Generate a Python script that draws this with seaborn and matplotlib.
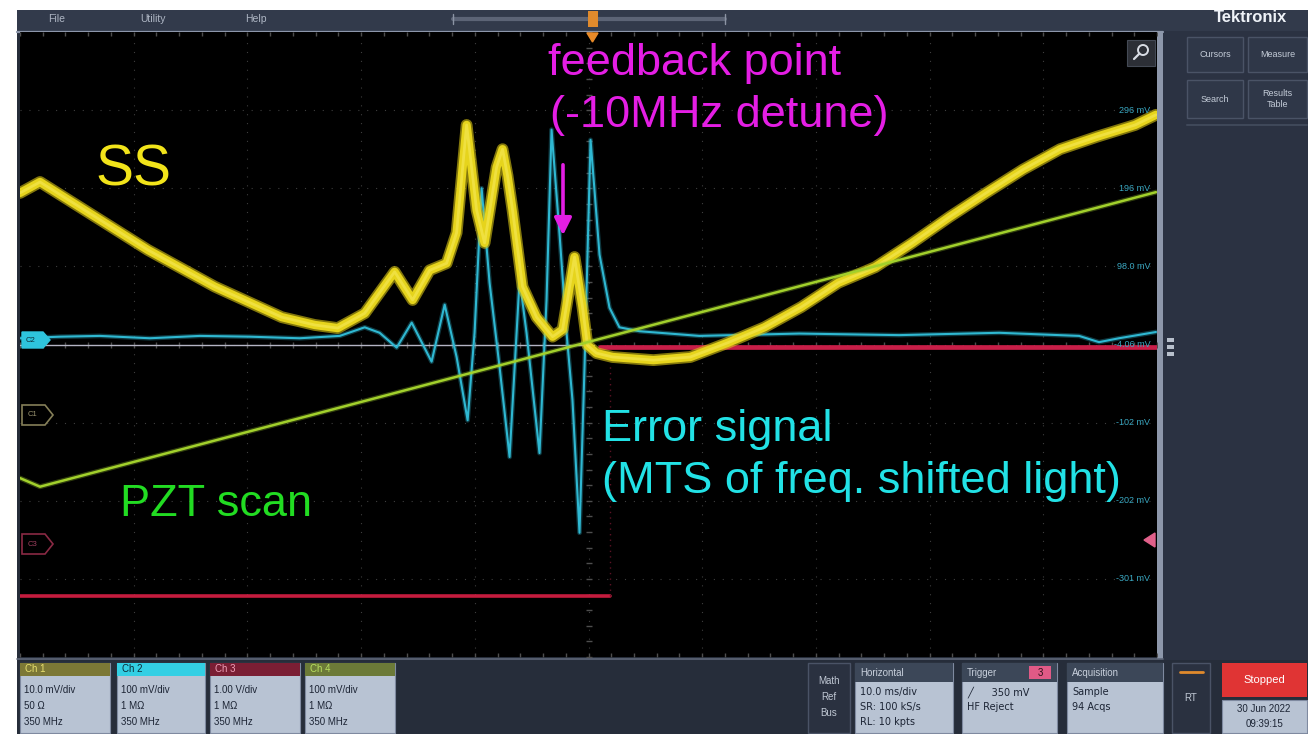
import matplotlib
matplotlib.use("Agg")
import matplotlib.pyplot as plt
import matplotlib.transforms as mtransforms
from matplotlib.patches import Rectangle, Polygon, Circle
import seaborn as sns

sns.set_theme(style="dark")
plt.rcParams['font.family'] = ['Liberation Sans', 'DejaVu Sans']

# ---- acquisition record: time in ms (10 ms/div), amplitude in screen divisions ----
ss_t = [-50.0, -48.24, -38.75, -32.86, -26.98, -24.08, -22.06, -19.68, -17.05, -15.47,
        -13.97, -12.48, -11.60, -10.72, -9.84, -9.14, -8.08, -7.56, -7.12, -6.68,
        -5.80, -4.57, -3.16, -2.28, -1.23, -0.53, -0.09, 0.70, 2.11, 5.71,
        8.96, 12.21, 15.47, 18.72, 21.97, 25.22, 28.47, 31.72, 34.97, 38.22,
        41.48, 44.73, 48.07, 49.91]
ss_div = [1.94, 2.08, 1.21, 0.74, 0.35, 0.25, 0.21, 0.40, 0.93, 0.57,
          0.95, 1.04, 1.43, 2.81, 1.72, 1.30, 2.27, 2.50, 2.16, 1.72,
          0.74, 0.35, 0.10, 0.19, 1.12, 0.48, -0.01, -0.11, -0.16, -0.20,
          -0.16, 0.02, 0.22, 0.48, 0.79, 0.99, 1.30, 1.63, 1.94, 2.24,
          2.50, 2.66, 2.81, 2.94]

err_t = [-50.0, -46.49, -42.97, -38.58, -34.18, -29.79, -25.40, -21.88, -19.68, -18.37,
         -16.87, -15.55, -13.80, -12.65, -11.60, -10.63, -10.02, -9.40, -8.70, -7.82,
         -6.94, -6.06, -5.45, -4.31, -3.69, -3.25, -2.55, -1.93, -1.41, -0.79,
         -0.35, 0.18, 0.97, 1.85, 2.72, 4.48, 9.75, 18.54, 27.33, 36.12,
         43.15, 44.90, 46.66, 49.91]
err_div = [0.08, 0.10, 0.11, 0.08, 0.11, 0.10, 0.08, 0.11, 0.22, 0.15,
           -0.04, 0.28, -0.22, 0.51, -0.16, -0.97, 0.15, 2.00, 0.79, -0.29,
           -1.44, 0.83, 0.15, -1.39, 0.57, 2.75, 1.42, 0.15, -0.71, -2.41,
           -0.29, 2.62, 1.15, 0.47, 0.22, 0.17, 0.11, 0.14, 0.12, 0.15,
           0.11, 0.03, 0.08, 0.16]

pzt_t = [-50.0, -48.24, 49.91]
pzt_div = [-1.71, -1.82, 1.95]

ch3_low_t = [-50.0, 1.85]
ch3_low = [-3.22, -3.22]
ch3_high_t = [1.0, 49.91]
ch3_high = [-0.03, -0.03]

ref_t = [-50.0, 0.5]
ref_div = [0.0, 0.0]

scale_labels = ["296 mV", "196 mV", "98.0 mV", "-4.06 mV", "-102 mV", "-202 mV", "-301 mV"]
scale_divs = [3, 2, 1, 0, -1, -2, -3]

channel_boxes = [
    ("Ch 1", ["10.0 mV/div", "50 Ω", "350 MHz"], "#7c7836", "#e8e070"),
    ("Ch 2", ["100 mV/div", "1 MΩ", "350 MHz"], "#33cfe4", "#0d2a36"),
    ("Ch 3", ["1.00 V/div", "1 MΩ", "350 MHz"], "#7a1e34", "#f0a0b8"),
    ("Ch 4", ["100 mV/div", "1 MΩ", "350 MHz"], "#6c7a38", "#b8e060"),
]

W, H = 1308, 734
fig = plt.figure(figsize=(W / 100, H / 100), dpi=100)
fig.patch.set_facecolor("white")

# chrome layer in pixel units
bg = fig.add_axes([0, 0, 1, 1], zorder=0)
bg.set_xlim(0, W)
bg.set_ylim(H, 0)
bg.axis("off")


def rect(ax, x0, y0, x1, y1, fc, ec=None, lw=0.0, z=1):
    ax.add_patch(Rectangle((x0, y0), x1 - x0, y1 - y0, facecolor=fc,
                           edgecolor=ec if ec else fc, linewidth=lw, zorder=z))


# frame of the instrument screen
rect(bg, 17, 10, W, H, "#262d3a")
rect(bg, 17, 10, W, 31, "#323a4b")
bg.plot([17, 1163], [31.5, 31.5], color="#8c96aa", lw=1.6, zorder=2)
rect(bg, 1157, 31, 1163, 659, "#8d97aa", z=2)
rect(bg, 1163, 31, W, 660, "#2b3242")
bg.plot([17, 1163], [658.5, 658.5], color="#5e6678", lw=1.2, zorder=2)

# top menu
for label, x in [("File", 48), ("Utility", 140), ("Help", 245)]:
    bg.text(x, 19, label, color="#aeb6c4", fontsize=7.5, va="center", ha="left", zorder=3)
bg.plot([453, 725], [19, 19], color="#5c6476", lw=3, zorder=3, solid_capstyle="round")
bg.plot([453, 453], [14, 24], color="#8c94a4", lw=1, zorder=3)
bg.plot([725, 725], [14, 24], color="#8c94a4", lw=1, zorder=3)
rect(bg, 588, 11, 598, 27, "#e08a2c", z=4)
bg.text(1250, 17, "Tektronix", color="#eef2f8", fontsize=12, fontweight="bold",
        ha="center", va="center", zorder=3)

# side panel buttons
for (x0, y0, x1, y1, txt) in [(1187, 37, 1243, 72, "Cursors"), (1248, 37, 1307, 72, "Measure"),
                              (1187, 80, 1243, 118, "Search"), (1248, 80, 1307, 118, "Results\nTable")]:
    rect(bg, x0, y0, x1, y1, "#2f3748", ec="#4a5366", lw=1.0, z=3)
    bg.text((x0 + x1) / 2, (y0 + y1) / 2, txt, color="#c4ccd8", fontsize=6.5,
            ha="center", va="center", zorder=4, linespacing=1.2)
bg.plot([1187, 1307], [125, 125], color="#3f4859", lw=1.5, zorder=3)
for yy in [340, 347, 354]:
    rect(bg, 1167, yy - 2, 1174, yy + 2, "#b8c0cc", z=3)

# bottom status bar
body = "#b8c3d3"
xs = [(20, 110), (117, 205), (210, 300), (305, 395)]
for (x0, x1), (head, lines, hc, htc) in zip(xs, channel_boxes):
    rect(bg, x0, 663, x1, 733, body, ec="#7f8aa0", lw=0.8, z=3)
    rect(bg, x0, 663, x1, 676, hc, z=4)
    bg.text(x0 + 5, 669.5, head, color=htc, fontsize=7, va="center", zorder=5)
    for i, ln in enumerate(lines):
        bg.text(x0 + 4, 690 + i * 16, ln, color="#1c2434", fontsize=7, va="center", zorder=5)

rect(bg, 808, 663, 850, 733, "#2a3140", ec="#4a5366", lw=1.0, z=3)
for i, ln in enumerate(["Math", "Ref", "Bus"]):
    bg.text(829, 681 + i * 16, ln, color="#c0c8d4", fontsize=7, ha="center", va="center", zorder=4)

for (x0, x1, head, lines) in [(855, 953, "Horizontal", ["10.0 ms/div", "SR: 100 kS/s", "RL: 10 kpts"]),
                              (962, 1057, "Trigger", ["╱      350 mV", "HF Reject"]),
                              (1067, 1163, "Acquisition", ["Sample", "94 Acqs"])]:
    rect(bg, x0, 663, x1, 733, body, ec="#7f8aa0", lw=0.8, z=3)
    rect(bg, x0, 663, x1, 682, "#3c4758", z=4)
    bg.text(x0 + 5, 672.5, head, color="#c8d0dc", fontsize=7, va="center", zorder=5)
    for i, ln in enumerate(lines):
        bg.text(x0 + 5, 692 + i * 15, ln, color="#1c2434", fontsize=7, va="center", zorder=5,
                family=["DejaVu Sans"])
rect(bg, 1029, 666, 1051, 679, "#e05a86", z=5)
bg.text(1040, 672.5, "3", color="#2a1018", fontsize=7, ha="center", va="center", zorder=6)

rect(bg, 1172, 663, 1210, 733, "#2a3140", ec="#4a5366", lw=1.0, z=3)
bg.plot([1180, 1203], [672, 672], color="#e08a2c", lw=2, zorder=4)
bg.text(1191, 698, "RT", color="#c0c8d4", fontsize=7, ha="center", va="center", zorder=4)

rect(bg, 1222, 663, 1307, 697, "#e03434", z=3)
bg.text(1264, 680, "Stopped", color="white", fontsize=8, ha="center", va="center", zorder=4)
rect(bg, 1222, 700, 1307, 733, body, ec="#7f8aa0", lw=0.8, z=3)
bg.text(1264, 709, "30 Jun 2022", color="#1c2434", fontsize=7, ha="center", va="center", zorder=4)
bg.text(1264, 724, "09:39:15", color="#1c2434", fontsize=7, ha="center", va="center", zorder=4)

# ---- waveform graticule: 10 x 8 divisions ----
ax = fig.add_axes([20 / W, (H - 657) / H, (1157 - 20) / W, (657 - 32) / H], zorder=1)
ax.set_facecolor("black")
ax.set_xlim(-50, 50)
ax.set_ylim(-4, 4)
ax.set_xticks([])
ax.set_yticks([])
for s in ax.spines.values():
    s.set_visible(False)
ax.grid(False)

grid_kw = dict(color="#3e3e3e", lw=0.8, linestyle=(0, (1, 7)), zorder=0)
for gx in range(-40, 50, 10):
    ax.axvline(gx, **grid_kw)
for gy in range(-3, 4):
    ax.axhline(gy, **grid_kw)

minor_x = [i * 2.0 for i in range(-25, 26)]
minor_y = [i * 0.2 for i in range(-20, 21)]
tick_c = "#4e4e4e"
ax.plot(minor_x, [0] * len(minor_x), ls="none", marker="|", ms=5, color=tick_c, zorder=0.5)
ax.plot([0] * len(minor_y), minor_y, ls="none", marker="_", ms=5, color=tick_c, zorder=0.5)
ax.plot(minor_x, [3.97] * len(minor_x), ls="none", marker="|", ms=3.5, color=tick_c, zorder=0.5)
ax.plot(minor_x, [-3.97] * len(minor_x), ls="none", marker="|", ms=3.5, color=tick_c, zorder=0.5)

# Ch3 trace and reference line
sns.lineplot(x=ch3_low_t, y=ch3_low, ax=ax, color="#c41c3e", lw=2.6, legend=False, zorder=2)
sns.lineplot(x=ch3_high_t, y=ch3_high, ax=ax, color="#c81e48", lw=3.4, legend=False, zorder=2)
ax.plot([ch3_low_t[-1]] * 2, [ch3_low[-1], -0.26], color="#5c1224", lw=1.0,
        linestyle=(0, (1, 3)), zorder=2)
sns.lineplot(x=ref_t, y=ref_div, ax=ax, color="#b4b4c4", lw=1.0, legend=False, zorder=2.2)

# Ch2 error signal
sns.lineplot(x=err_t, y=err_div, ax=ax, sort=False, estimator=None, color="#2fb8d2",
             lw=3.4, alpha=0.3, legend=False, zorder=3)
sns.lineplot(x=err_t, y=err_div, ax=ax, sort=False, estimator=None, color="#2fb8d2",
             lw=1.5, legend=False, zorder=3.1)

# Ch1 saturated spectroscopy (fuzzy persistence band)
sns.lineplot(x=ss_t, y=ss_div, ax=ax, sort=False, estimator=None, color="#dcc814",
             lw=8.5, alpha=0.6, legend=False, zorder=4, solid_joinstyle="round",
             solid_capstyle="round")
sns.lineplot(x=ss_t, y=ss_div, ax=ax, sort=False, estimator=None, color="#e6d41c",
             lw=6.0, alpha=1.0, legend=False, zorder=4.1, solid_joinstyle="round",
             solid_capstyle="round")
sns.lineplot(x=ss_t, y=ss_div, ax=ax, sort=False, estimator=None, color="#f4e650",
             lw=2.0, alpha=0.7, legend=False, zorder=4.2, solid_joinstyle="round")

# Ch4 piezo ramp
sns.lineplot(x=pzt_t, y=pzt_div, ax=ax, sort=False, estimator=None, color="#a2d02c",
             lw=3.6, alpha=0.3, legend=False, zorder=5)
sns.lineplot(x=pzt_t, y=pzt_div, ax=ax, sort=False, estimator=None, color="#a2d02c",
             lw=1.8, legend=False, zorder=5.1)

# vertical scale readout of Ch2
trans = mtransforms.blended_transform_factory(ax.transAxes, ax.transData)
for lab, d in zip(scale_labels, scale_divs):
    ax.text(0.994, d, lab, transform=trans, ha="right", va="center", fontsize=6.5,
            color="#3aa8c2", zorder=6)

# ---- overlay: markers and annotations in pixel units ----
top = fig.add_axes([0, 0, 1, 1], zorder=3)
top.set_xlim(0, W)
top.set_ylim(H, 0)
top.patch.set_alpha(0)
top.axis("off")

top.add_patch(Polygon([[22, 332], [43, 332], [50, 340], [43, 348], [22, 348]], closed=True,
                      facecolor="#2ec4dc", edgecolor="#2ec4dc", lw=1))
top.text(31, 340, "C2", fontsize=5.5, color="#0c2a34", ha="center", va="center")
top.add_patch(Polygon([[22, 405], [45, 405], [53, 415], [45, 425], [22, 425]], closed=True,
                      facecolor="black", edgecolor="#857f58", lw=1.2))
top.text(32, 415, "C1", fontsize=5.5, color="#9a9470", ha="center", va="center")
top.add_patch(Polygon([[22, 534], [45, 534], [53, 544], [45, 554], [22, 554]], closed=True,
                      facecolor="black", edgecolor="#8a2a44", lw=1.2))
top.text(32, 544, "C3", fontsize=5.5, color="#a04060", ha="center", va="center")
top.add_patch(Polygon([[1144, 540], [1155, 533], [1155, 547]], closed=True,
                      facecolor="#e0608a", edgecolor="#e0608a"))
top.add_patch(Polygon([[587, 33], [598, 33], [592.5, 42]], closed=True,
                      facecolor="#e88a28", edgecolor="#e88a28"))

# zoom button
top.add_patch(Rectangle((1127, 40), 28, 26, facecolor="#2c2f36", edgecolor="#444a55", lw=0.8))
top.add_patch(Circle((1143, 50), 5, facecolor="none", edgecolor="#d8dce4", lw=1.4))
top.plot([1139.5, 1134], [53.5, 59], color="#d8dce4", lw=1.6)

magenta = "#e41ee4"
top.text(548, 75, "feedback point", color=magenta, fontsize=32.5, ha="left", va="baseline")
top.text(550, 127, "(-10MHz detune)", color=magenta, fontsize=32.5, ha="left", va="baseline")
top.annotate("", xy=(563, 238), xytext=(563, 162),
             arrowprops=dict(arrowstyle="-|>", color=magenta, lw=2.6, mutation_scale=26))
top.text(95, 185, "SS", color="#f2e41a", fontsize=41, ha="left", va="baseline")
top.text(602, 441, "Error signal", color="#22e2e6", fontsize=32.5, ha="left", va="baseline")
top.text(602, 493, "(MTS of freq. shifted light)", color="#22e2e6", fontsize=32.5,
         ha="left", va="baseline")
top.text(120, 516, "PZT scan", color="#22dc22", fontsize=32.5, ha="left", va="baseline")

fig.savefig("out.png", dpi=100, facecolor=fig.get_facecolor())
